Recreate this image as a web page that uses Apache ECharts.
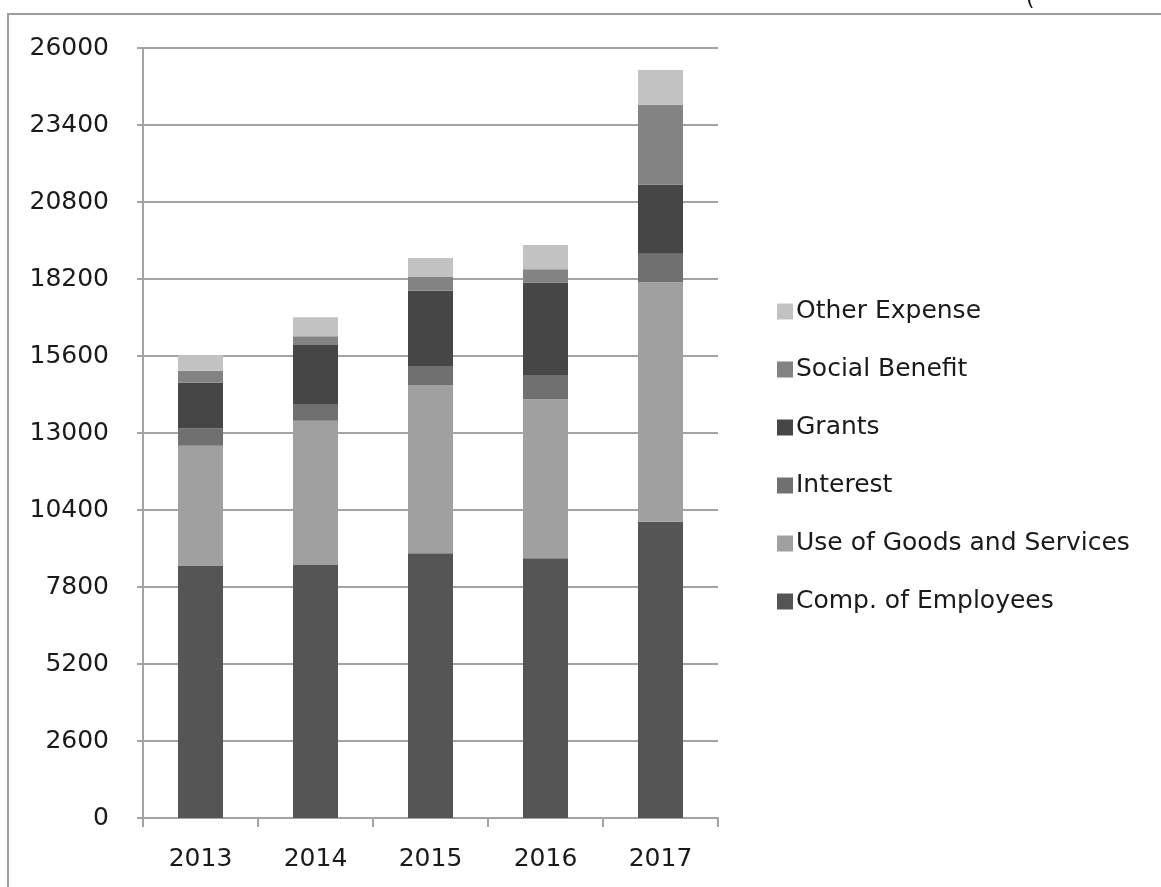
<!DOCTYPE html>
<html>
<head>
<meta charset="utf-8">
<script src="https://cdn.jsdelivr.net/npm/echarts@6/dist/echarts.min.js"></script>
<style>
  html, body { margin: 0; padding: 0; background: #fff; }
  #chart { width: 1161px; height: 887px; }
</style>
</head>
<body>
<div id="chart"></div>
<script>
const years = ['2013', '2014', '2015', '2016', '2017']
const compEmployees = [8530, 8540, 8940, 8770, 10000]
const goodsServices = [4040, 4870, 5680, 5370, 8090]
const interest = [580, 570, 640, 820, 960]
const grants = [1550, 1990, 2540, 3120, 2330]
const socialBenefit = [400, 300, 470, 450, 2700]
const otherExpense = [530, 640, 640, 820, 1180]
const yTicks = [0, 2600, 5200, 7800, 10400, 13000, 15600, 18200, 20800, 23400, 26000]

const font = 'DejaVu Sans'
const textColor = '#1a1a1a'
const lineColor = '#a3a3a3'

function barSeries(name, data, color) {
  return {
    name,
    type: 'bar',
    stack: 'total',
    barWidth: 45,
    data,
    itemStyle: { color },
    emphasis: { disabled: true },
  }
}

const chart = echarts.init(document.getElementById('chart'))
chart.setOption({
  animation: false,
  textStyle: { fontFamily: font },
  grid: { left: 143, right: 443, top: 48, bottom: 69 },
  graphic: [
    {
      type: 'polyline',
      shape: { points: [[8, 887], [8, 14], [1161, 14]] },
      style: { stroke: '#9d9d9d', lineWidth: 2, fill: null },
    },
    {
      type: 'text',
      left: 1026,
      top: -12,
      style: { text: '(', font: '22px DejaVu Sans', fill: textColor },
    },
  ],
  legend: {
    orient: 'vertical',
    left: 772,
    top: 294,
    itemWidth: 16,
    itemHeight: 16,
    itemGap: 33,
    icon: 'rect',
    data: ['Other Expense', 'Social Benefit', 'Grants', 'Interest', 'Use of Goods and Services', 'Comp. of Employees'],
    textStyle: { fontFamily: font, fontSize: 25, color: textColor, padding: [0, 0, 0, -2] },
  },
  xAxis: {
    type: 'category',
    data: years,
    axisLine: { lineStyle: { color: lineColor, width: 2 } },
    axisTick: { show: true, length: 9, lineStyle: { color: lineColor, width: 2 } },
    axisLabel: { color: textColor, fontSize: 25, fontFamily: font, margin: 29 },
  },
  yAxis: {
    type: 'value',
    min: 0,
    max: 26000,
    interval: 2600,
    axisLine: { show: true, lineStyle: { color: lineColor, width: 2 } },
    axisTick: { show: true, length: 6, lineStyle: { color: lineColor, width: 2 } },
    axisLabel: {
      color: textColor,
      fontSize: 25,
      fontFamily: font,
      margin: 34,
      formatter: (v) => (yTicks.includes(v) ? String(v) : ''),
    },
    splitLine: { lineStyle: { color: lineColor, width: 2 } },
  },
  series: [
    barSeries('Comp. of Employees', compEmployees, '#555555'),
    barSeries('Use of Goods and Services', goodsServices, '#a0a0a0'),
    barSeries('Interest', interest, '#707070'),
    barSeries('Grants', grants, '#464646'),
    barSeries('Social Benefit', socialBenefit, '#838383'),
    barSeries('Other Expense', otherExpense, '#c2c2c2'),
  ],
})
</script>
</body>
</html>
